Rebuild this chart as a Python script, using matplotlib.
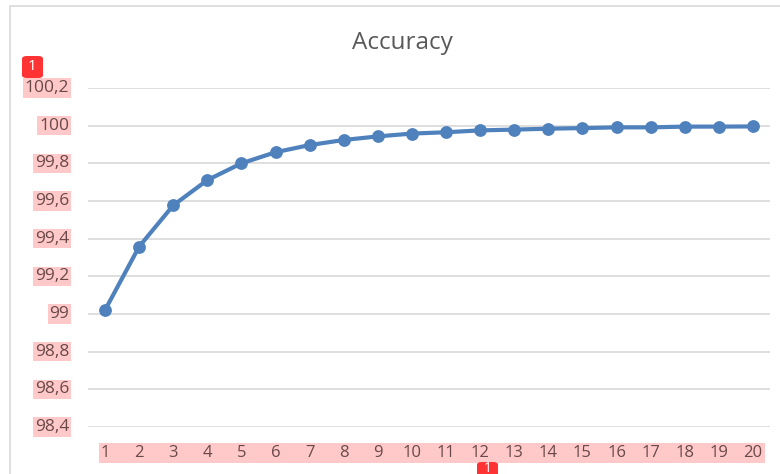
import matplotlib
matplotlib.use("Agg")
import matplotlib.pyplot as plt
from matplotlib.patches import Rectangle, FancyBboxPatch

epochs = list(range(1, 21))
accuracy = [99.021, 99.358, 99.577, 99.711, 99.800, 99.859, 99.897, 99.924, 99.943, 99.958,
            99.965, 99.975, 99.979, 99.984, 99.987, 99.991, 99.991, 99.995, 99.995, 99.996]
yticks = [98.4, 98.6, 98.8, 99.0, 99.2, 99.4, 99.6, 99.8, 100.0, 100.2]
ytick_labels = ["98,4", "98,6", "98,8", "99", "99,2", "99,4", "99,6", "99,8", "100", "100,2"]
title = "Accuracy"

plt.rcParams['font.family'] = ['Open Sans', 'DejaVu Sans']
W, H = 780, 474
fig = plt.figure(figsize=(W / 100, H / 100), dpi=100)
fig.patch.set_facecolor('white')

# chart border
fig.add_artist(Rectangle((9.5 / W, -0.1), 1.0, (H - 6.5) / H + 0.1, transform=fig.transFigure,
                         fill=False, edgecolor='#d9d9d9', linewidth=1.2))

ax = fig.add_axes([88 / W, (H - 427) / H, (770 - 88) / W, (427 - 88) / H])
ax.set_xlim(0.5, 20.5)
ax.set_ylim(98.4, 100.2)
for s in ax.spines.values():
    s.set_visible(False)
ax.set_yticks(yticks)
ax.yaxis.grid(True, color='#d9d9d9', linewidth=1.2)
ax.set_axisbelow(True)
ax.tick_params(length=0)
ax.set_yticklabels([])
ax.set_xticks(epochs)
ax.set_xticklabels([])

ax.plot(epochs, accuracy, color='#4f81bd', linewidth=3.0, marker='o', markersize=8.2,
        solid_capstyle='round', zorder=3, clip_on=False)

txt_color = '#6a4848'
pink = '#ffc9c9'
# y tick labels with highlight
for v, lab in zip(yticks, ytick_labels):
    fig.text(69 / W, ax.transData.transform((1, v))[1] / H, lab, ha='right', va='center',
             fontsize=12.5, color=txt_color,
             bbox=dict(boxstyle='square,pad=0.1', facecolor=pink, edgecolor='none'))

# x tick label highlight band
fig.add_artist(Rectangle((99 / W, (H - 463) / H), (765 - 99) / W, 20 / H, transform=fig.transFigure,
                         facecolor=pink, edgecolor='none', zorder=1))
for e in epochs:
    fig.text(ax.transData.transform((e, 98.4))[0] / W, (H - 453) / H, str(e), ha='center', va='center',
             fontsize=12, color=txt_color, zorder=2)

fig.text(402 / W, (H - 43) / H, title, ha='center', va='center',
         fontsize=17.5, color='#595959')

# annotation badges
for (x0, y0, ty) in [(22, 56, 67), (477, 462, 468)]:
    fig.add_artist(FancyBboxPatch((x0 / W, (H - y0 - 22) / H), 21 / W, 22 / H,
                                  boxstyle='round,pad=0,rounding_size=0.006',
                                  transform=fig.transFigure, facecolor='#ff3333', edgecolor='none', zorder=5))
    fig.text((x0 + 10.5) / W, (H - ty) / H, "1", ha='center', va='center', color='white',
             fontsize=10 if ty == 468 else 11, zorder=6)

fig.savefig('out.png', dpi=100)
